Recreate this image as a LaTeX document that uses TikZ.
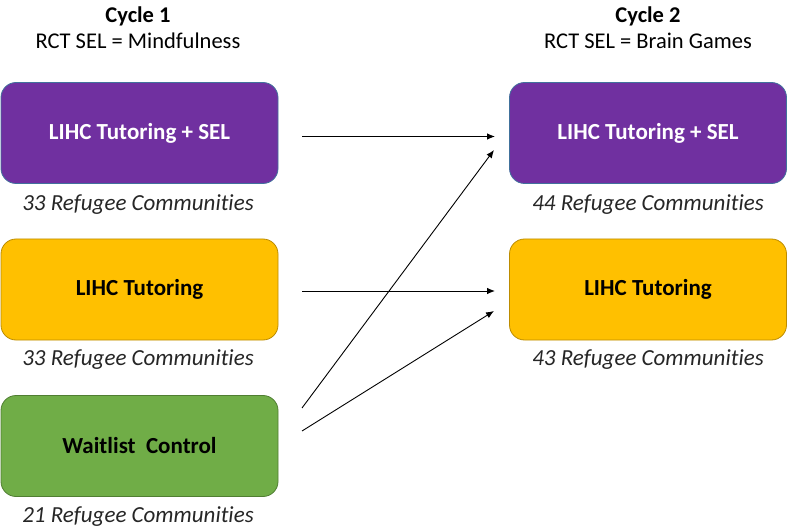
\documentclass[tikz,border=0pt]{standalone}
\usepackage{fontspec}
\setmainfont[Ligatures=NoCommon]{Carlito}
\usetikzlibrary{arrows.meta}
\definecolor{purplefill}{HTML}{7030A0}
\definecolor{purpleline}{HTML}{41719C}
\definecolor{goldfill}{HTML}{FFC000}
\definecolor{goldline}{HTML}{BC8C00}
\definecolor{greenfill}{HTML}{70AD47}
\definecolor{greenline}{HTML}{507E32}
\definecolor{labelgrey}{HTML}{262626}
\tikzset{
  group/.style={rounded corners=15pt, minimum width=277pt, minimum height=101pt,
    line width=0.8pt, font=\fontsize{23}{26}\selectfont\bfseries, inner sep=0pt},
  sel/.style={group, fill=purplefill, draw=purpleline, text=white},
  tutor/.style={group, fill=goldfill, draw=goldline, text=black},
  waitlist/.style={group, fill=greenfill, draw=greenline, text=black},
  count/.style={font=\fontsize{23}{26}\selectfont\itshape, text=labelgrey},
  heading/.style={font=\fontsize{22.5}{26}\selectfont\bfseries, text=black},
  subheading/.style={font=\fontsize{22.5}{26}\selectfont, text=black},
  flow/.style={-{Latex[length=8pt,width=6.5pt]}, line width=0.9pt, black},
}
\begin{document}
\begin{tikzpicture}[x=1pt,y=-1pt]
\useasboundingbox (0,0) rectangle (787,529);

% column headings
\node[heading] (h1) at (138,16) {Cycle 1};
\node[subheading] (s1) at (138,41) {RCT SEL = Mindfulness};
\node[heading] (h2) at (648,16) {Cycle 2};
\node[subheading] (s2) at (648,41) {RCT SEL = Brain Games};

% cycle 1 groups
\node[sel] (a1) at (139.5,133) {LIHC Tutoring + SEL};
\node[count] (c1) at (138,205) {33 Refugee Communities};
\node[tutor] (b1) at (139.5,289.5) {LIHC Tutoring};
\node[count] (c2) at (138,360) {33 Refugee Communities};
\node[waitlist] (w1) at (139.5,446) {Waitlist\ \ Control};
\node[count] (c3) at (138,517) {21 Refugee Communities};

% cycle 2 groups
\node[sel] (a2) at (648,133) {LIHC Tutoring + SEL};
\node[count] (c4) at (648,205) {44 Refugee Communities};
\node[tutor] (b2) at (648,289.5) {LIHC Tutoring};
\node[count] (c5) at (648,360) {43 Refugee Communities};

% arrow end points
\coordinate (p1) at (302,136.5);
\coordinate (q1) at (495,136.5);
\coordinate (p2) at (302,291);
\coordinate (q2) at (495,291);
\coordinate (p3) at (302,408);
\coordinate (q3) at (494,150);
\coordinate (p4) at (302,431);
\coordinate (q4) at (494,311);

\draw[flow] (p1) -- (q1);
\draw[flow] (p2) -- (q2);
\draw[flow] (p3) -- (q3);
\draw[flow] (p4) -- (q4);
\end{tikzpicture}
\end{document}
